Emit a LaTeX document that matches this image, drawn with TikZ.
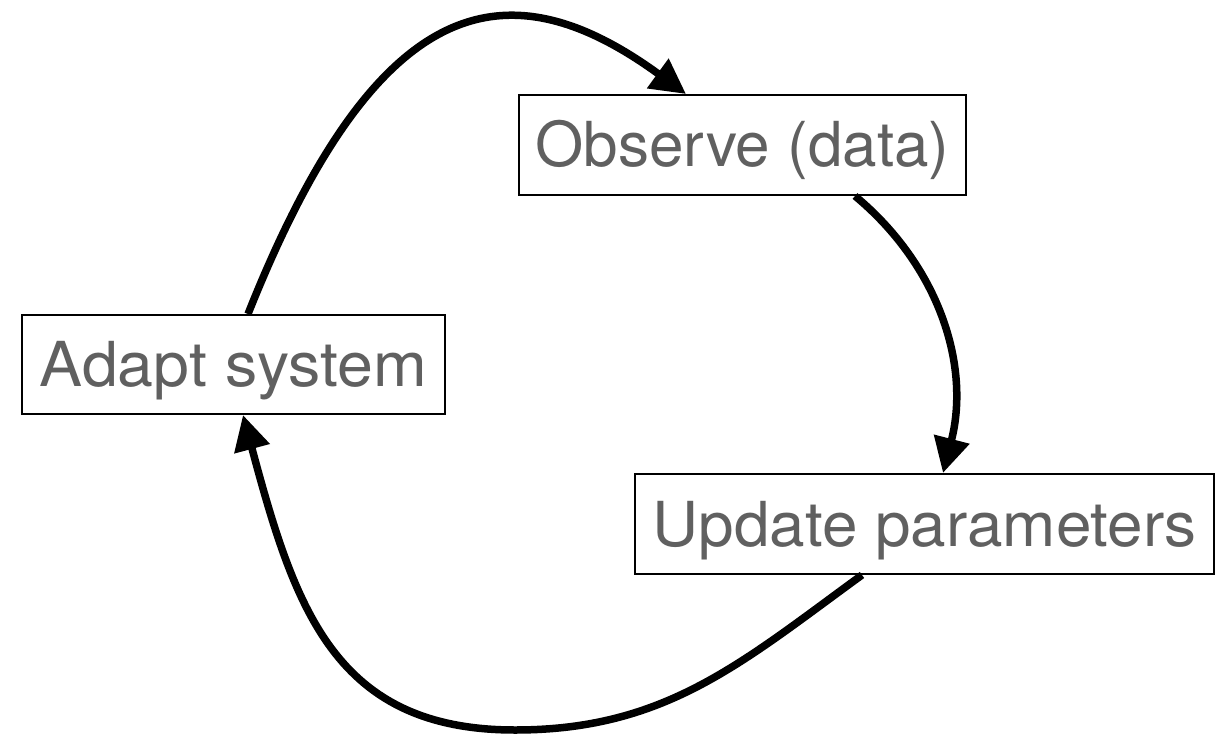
\documentclass[tikz,border=0pt]{standalone}
\usepackage{fontspec}
\setmainfont{TeX Gyre Heros}
\usetikzlibrary{arrows.meta}
\definecolor{txtgray}{RGB}{96,96,96}
\tikzset{
  stagebox/.style={draw=black, line width=2pt, fill=white, inner sep=0pt,
    text=txtgray, font=\fontsize{62}{70}\selectfont,
    text height=44pt, text depth=0pt},
  loopline/.style={line width=7.5pt, -{Triangle[length=35pt,width=35pt]}}
}
\begin{document}
\begin{tikzpicture}[x=1pt,y=-1pt]
\useasboundingbox (0,0) rectangle (1217,735);
\node[stagebox, minimum width=447pt, minimum height=100pt] (observe) at (742.5,145) {Observe (data)};
\node[stagebox, minimum width=423pt, minimum height=99pt] (adapt) at (233.5,364.5) {\scalebox{1.04}[1]{Adapt system}};
\node[stagebox, minimum width=579pt, minimum height=100pt] (update) at (924.5,524) {\scalebox{1.03}[1]{Update parameters}};
% adapt -> observe
\draw[loopline] ([xshift=14.5pt]adapt.north) .. controls +(129.5,-325.5) and +(-178.2,-129.8) .. ([xshift=-56.5pt]observe.north);
% observe -> update
\draw[loopline] ([xshift=112.5pt]observe.south) .. controls +(84.7,70.4) and +(27.5,-106.7) .. ([xshift=18.5pt]update.north);
% update -> adapt
\coordinate (low) at (515,730);
\draw[loopline] ([xshift=-62.5pt]update.south) .. controls +(-121.5,88.5) and +(150,0) .. (low)
   .. controls +(-180,0) and +(52,194) .. ([xshift=9.5pt]adapt.south);
\end{tikzpicture}
\end{document}
